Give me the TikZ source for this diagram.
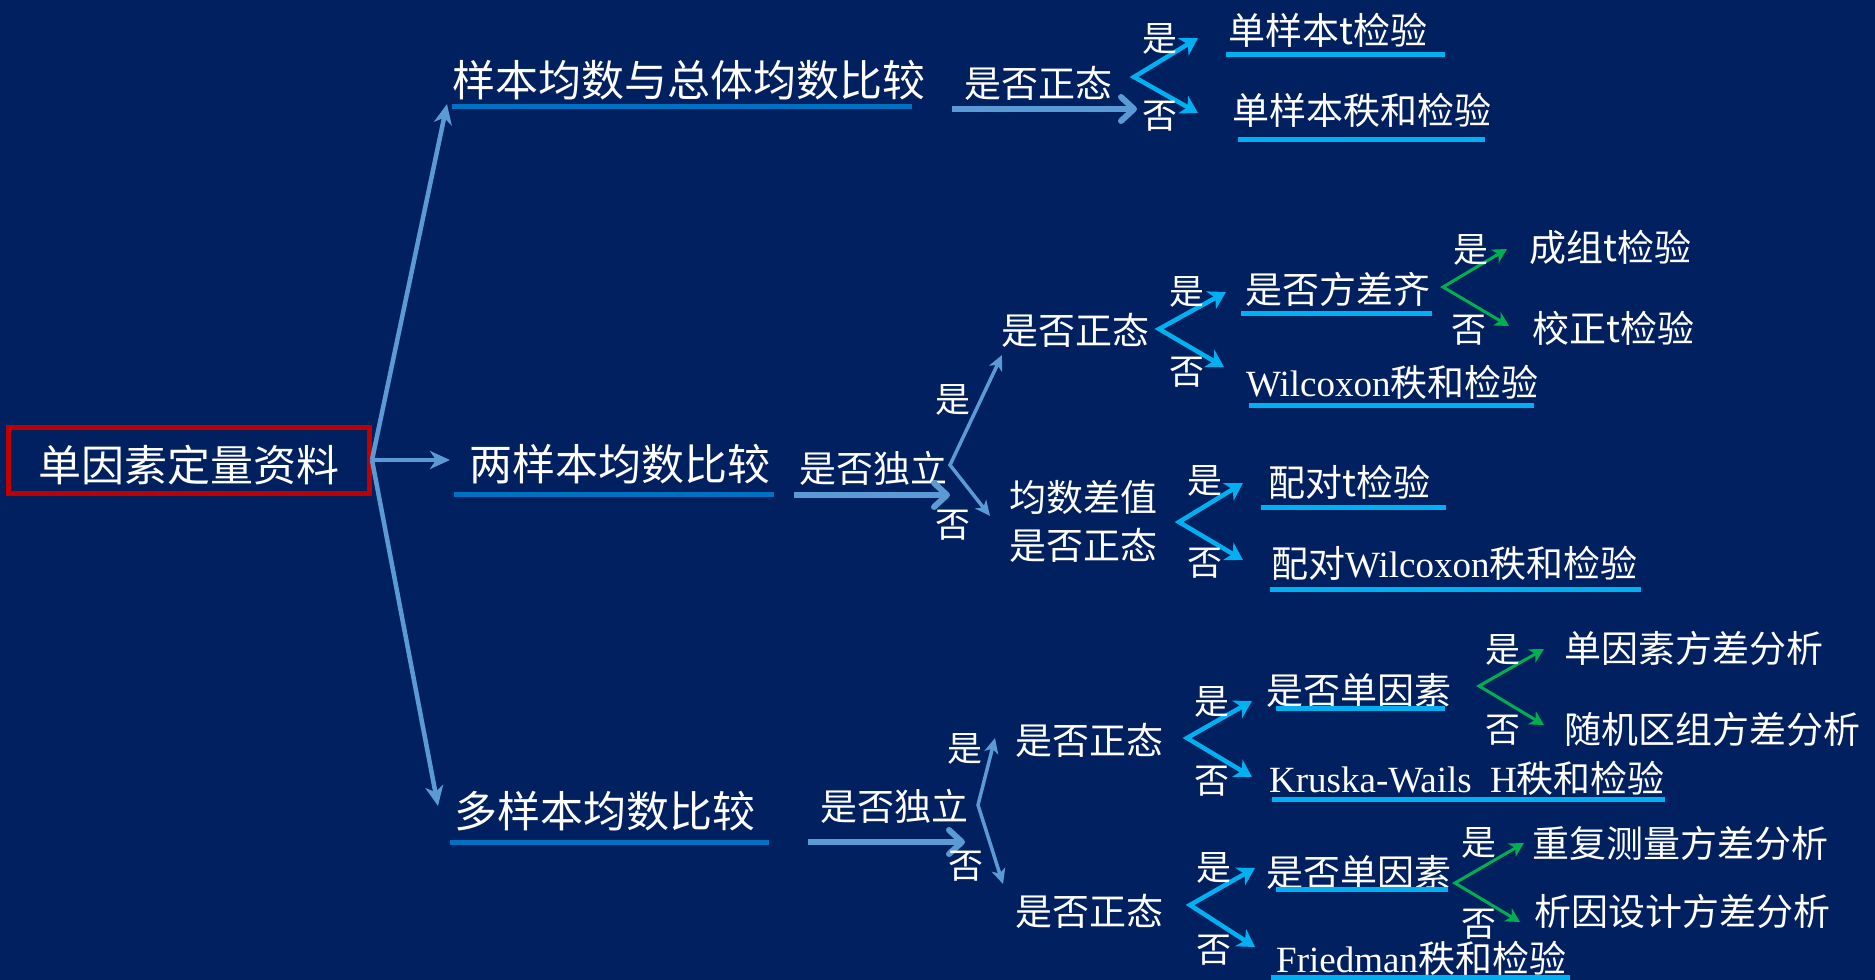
\documentclass[tikz,border=0pt]{standalone}
\usepackage{fontspec}
\setmainfont{Noto Sans CJK SC}
\newfontfamily\latf{Liberation Serif}
\usetikzlibrary{arrows.meta}
\definecolor{bg}{HTML}{002060}
\definecolor{lb}{HTML}{5B9BD5}
\definecolor{ulc}{HTML}{0070C0}
\definecolor{cy}{HTML}{00B0F0}
\definecolor{gr}{HTML}{00B050}
\definecolor{rd}{HTML}{C00000}
\begin{document}
\begin{tikzpicture}[x=1pt,y=-1pt,
  txt/.style={text=white, inner sep=0pt, anchor=west},
  big/.style={txt, font=\fontsize{43}{50}\selectfont},
  mid/.style={txt, font=\fontsize{37}{44}\selectfont},
  yn/.style={text=white, inner sep=0pt, font=\fontsize{35}{40}\selectfont},
  mainarr/.style={draw=lb, line width=4.5pt, -{Stealth[length=20pt,width=18pt,inset=6pt]}},
  harr/.style={draw=lb, line width=6pt, -{Straight Barb[length=13pt,width=24pt,round]}},
  lbv/.style={draw=lb, line width=3.5pt, >={Stealth[length=15pt,width=14pt,inset=4pt]}, <->},
  cyv/.style={draw=cy, line width=4.5pt, >={Stealth[length=17pt,width=20pt,inset=5pt]}, <->},
  grv/.style={draw=gr, line width=3pt, >={Stealth[length=14pt,width=15pt,inset=4pt]}, <->},
  ulA/.style={draw=ulc, line width=5pt},
  ulB/.style={draw=cy, line width=5pt},
]
\useasboundingbox (0,0) rectangle (1875,980);
\fill[bg] (0,0) rectangle (1875,980);

% root
\node[draw=rd, line width=5pt, minimum width=361pt, minimum height=66pt, inner sep=0pt,
      text height=47pt, text=white, font=\fontsize{43}{50}\selectfont] (root) at (189,460) {单因素定量资料};

% level 1
\node[big] (L1) at (452,80) {样本均数与总体均数比较};
\node[big] (L2) at (469,464) {两样本均数比较};
\node[big] (L3) at (454,811) {多样本均数比较};
\draw[ulA] (452,106) -- (912,106);
\draw[ulA] (454,494) -- (774,494);
\draw[ulA] (450,842) -- (769,842);

\coordinate (a1) at (447,104);
\coordinate (a2) at (450,460);
\coordinate (a3) at (438,806);
\draw[mainarr] (root.east) -- (a1);
\draw[mainarr] (root.east) -- (a2);
\draw[mainarr] (root.east) -- (a3);

% ---------- top branch
\node[mid] (q1) at (964,83) {是否正态};
\coordinate (h1s) at (952,109); \coordinate (h1e) at (1137,109);
\draw[harr] (h1s) -- (h1e);
\coordinate (v1) at (1134,77); \coordinate (v1a) at (1198,38); \coordinate (v1b) at (1198,113);
\draw[cyv] (v1a) -- (v1) -- (v1b);
\node[yn] (y1) at (1160,39) {是};
\node[yn] (n1) at (1160,116) {否};
\node[mid] (r1) at (1228,30) {单样本t检验};
\node[mid] (r2) at (1232,110) {单样本秩和检验};
\draw[ulB] (1226,54) -- (1445,54);
\draw[ulB] (1238,139) -- (1485,139);

% ---------- middle branch
\node[mid] (q2) at (799,468) {是否独立};
\coordinate (h2s) at (794,495); \coordinate (h2e) at (950,495);
\draw[harr] (h2s) -- (h2e);
\coordinate (v2) at (950,465); \coordinate (v2a) at (1002,355); \coordinate (v2b) at (990,516);
\draw[lbv] (v2a) -- (v2) -- (v2b);
\node[yn] (y2) at (953,400) {是};
\node[yn] (n2) at (953,525) {否};

\node[mid] (q3) at (1001,330) {是否正态};
\coordinate (v3) at (1159,329); \coordinate (v3a) at (1226,292); \coordinate (v3b) at (1224,367);
\draw[cyv] (v3a) -- (v3) -- (v3b);
\node[yn] (y3) at (1187,292) {是};
\node[yn] (n3) at (1187,372) {否};

\node[mid] (q4) at (1245,289) {是否方差齐};
\draw[ulB] (1241,313) -- (1432,313);
\coordinate (v4) at (1443,287); \coordinate (v4a) at (1507,249); \coordinate (v4b) at (1509,326);
\draw[grv] (v4a) -- (v4) -- (v4b);
\node[yn] (y4) at (1471,250) {是};
\node[yn] (n4) at (1469,330) {否};
\node[mid] (r3) at (1529,247) {成组t检验};
\node[mid] (r4) at (1532,328) {校正t检验};

\node[mid] (r5) at (1246,382) {{\latf Wilcoxon}秩和检验};
\draw[ulB] (1249,405) -- (1534,405);

\node[txt, align=left, font=\fontsize{37}{48}\selectfont] (q5) at (1009,521) {均数差值\\是否正态};
\coordinate (v5) at (1179,522); \coordinate (v5a) at (1243,483); \coordinate (v5b) at (1243,560);
\draw[cyv] (v5a) -- (v5) -- (v5b);
\node[yn] (y5) at (1205,481) {是};
\node[yn] (n5) at (1205,563) {否};
\node[mid] (r6) at (1268,482) {配对t检验};
\node[mid] (r7) at (1271,563) {配对{\latf Wilcoxon}秩和检验};
\draw[ulB] (1261,507) -- (1446,507);
\draw[ulB] (1270,589) -- (1641,589);

% ---------- bottom branch
\node[mid] (q6) at (820,806) {是否独立};
\coordinate (h3s) at (808,842); \coordinate (h3e) at (965,842);
\draw[harr] (h3s) -- (h3e);
\coordinate (v6) at (978,805); \coordinate (v6a) at (995,738); \coordinate (v6b) at (1003,884);
\draw[lbv] (v6a) -- (v6) -- (v6b);
\node[yn] (y6) at (965,749) {是};
\node[yn] (n6) at (966,866) {否};

\node[mid] (q7) at (1015,740) {是否正态};
\coordinate (v7) at (1187,738); \coordinate (v7a) at (1252,701); \coordinate (v7b) at (1252,777);
\draw[cyv] (v7a) -- (v7) -- (v7b);
\node[yn] (y7) at (1212,702) {是};
\node[yn] (n7) at (1212,781) {否};

\node[mid] (q8) at (1266,690) {是否单因素};
\draw[ulB] (1276,708) -- (1445,708);
\coordinate (v8) at (1479,686); \coordinate (v8a) at (1544,649); \coordinate (v8b) at (1544,725);
\draw[grv] (v8a) -- (v8) -- (v8b);
\node[yn] (y8) at (1503,650) {是};
\node[yn] (n8) at (1503,730) {否};
\node[mid] (r8) at (1564,648) {单因素方差分析};
\node[mid] (r9) at (1564,729) {随机区组方差分析};

\node[mid] (r10) at (1269,778) {{\latf Kruska-Wails~~H}秩和检验};
\draw[ulB] (1272,799) -- (1665,799);

\node[mid] (q9) at (1015,911) {是否正态};
\coordinate (v9) at (1190,905); \coordinate (v9a) at (1255,868); \coordinate (v9b) at (1255,947);
\draw[cyv] (v9a) -- (v9) -- (v9b);
\node[yn] (y9) at (1214,868) {是};
\node[yn] (n9) at (1214,950) {否};

\node[mid] (q10) at (1266,872) {是否单因素};
\draw[ulB] (1276,889) -- (1448,889);
\coordinate (v10) at (1455,883); \coordinate (v10a) at (1524,843); \coordinate (v10b) at (1520,922);
\draw[grv] (v10a) -- (v10) -- (v10b);
\node[yn] (y10) at (1479,843) {是};
\node[yn] (n10) at (1479,924) {否};
\node[mid] (r11) at (1532,843) {重复测量方差分析};
\node[mid] (r12) at (1534,911) {析因设计方差分析};

\node[mid] (r13) at (1276,958) {{\latf Friedman}秩和检验};
\draw[ulB] (1271,977) -- (1570,977);
\end{tikzpicture}
\end{document}
